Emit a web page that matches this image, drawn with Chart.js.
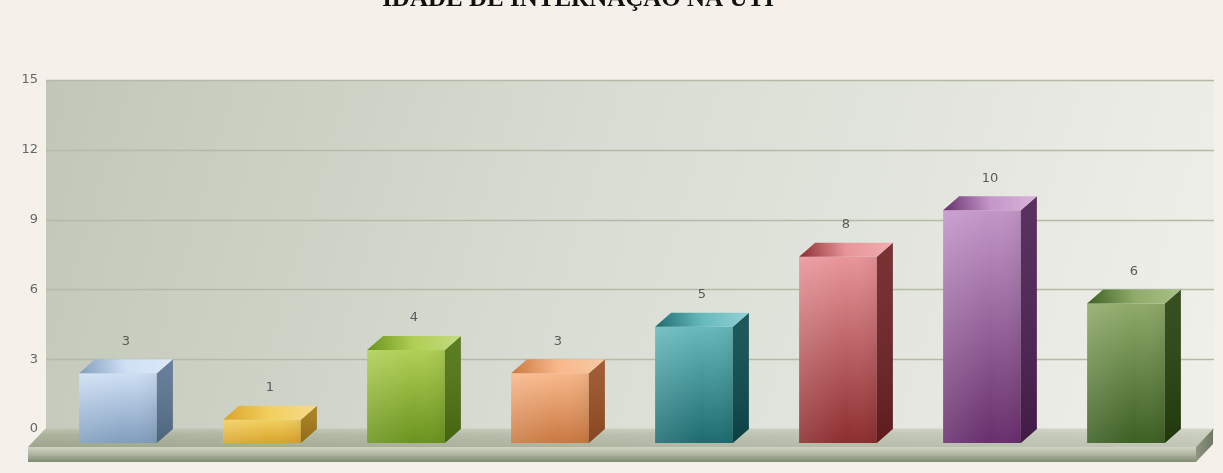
<!DOCTYPE html>
<html>
<head>
<meta charset="utf-8">
<script src="https://cdn.jsdelivr.net/npm/chart.js@4/dist/chart.umd.min.js"></script>
<style>
  html,body{margin:0;padding:0;background:#f5f1ea;overflow:hidden;}
  #wrap{width:1223px;height:473px;}
</style>
</head>
<body>
<div id="wrap"><canvas id="ageChart" width="1223" height="473"></canvas></div>
<script>
// Idade de internação na UTI — 3D style bar chart

const titleText = 'IDADE DE INTERNAÇÃO NA UTI';
const categories = ['1', '2', '3', '4', '5', '6', '7', '8'];
const patients = [3, 1, 4, 3, 5, 8, 10, 6];
const yTicks = [0, 3, 6, 9, 12, 15];

// per bar: top face, front (light -> dark), side face
const palette = [
  ['#dce9f7', '#cfe0f5', '#7f9dbd', '#5b7593'],
  ['#f6dc8c', '#f3cf5e', '#d9a42c', '#a67a16'],
  ['#c4db82', '#b0cf55', '#6a931c', '#4f7410'],
  ['#f8c9a5', '#f8b88a', '#c97840', '#9a5024'],
  ['#93d2d4', '#66b9bc', '#1d6b6f', '#0b4b4f'],
  ['#f0adb0', '#e89599', '#8c2d2f', '#6e2023'],
  ['#d9b6da', '#c396c8', '#672f6c', '#4a2052'],
  ['#a9c088', '#8faa69', '#3c5f23', '#26400e']
];

const DX = 16, DY = 14;       // bar depth
const FDX = 17, FDY = 18;     // floor depth

function poly(ctx, pts, fill){
  ctx.beginPath();
  ctx.moveTo(pts[0][0], pts[0][1]);
  for(let i=1;i<pts.length;i++) ctx.lineTo(pts[i][0], pts[i][1]);
  ctx.closePath();
  ctx.fillStyle = fill;
  ctx.fill();
}

// background, back wall, grid and floor
const stagePlugin = {
  id: 'stage',
  beforeDraw(chart){
    const {ctx, chartArea:a} = chart;
    const ys = chart.scales.y;
    ctx.save();
    ctx.fillStyle = '#f5f1ea';
    ctx.fillRect(0, 0, chart.width, chart.height);

    // title, partly off the top edge
    ctx.font = 'bold 25px "Liberation Serif", "DejaVu Serif", serif';
    ctx.fillStyle = '#111';
    ctx.textAlign = 'center';
    ctx.textBaseline = 'alphabetic';
    ctx.fillText(titleText, 578, 6);

    const base = ys.getPixelForValue(0);
    const wallR = a.right + DX;
    const g = ctx.createLinearGradient(a.left, a.top, wallR, base);
    g.addColorStop(0, '#c1c7b8');
    g.addColorStop(0.45, '#d8dcd2');
    g.addColorStop(1, '#eff0ea');
    ctx.fillStyle = g;
    ctx.fillRect(a.left, a.top, wallR - a.left, base - a.top);

    ctx.strokeStyle = '#b3baa7';
    ctx.lineWidth = 1.5;
    yTicks.forEach(v=>{
      const y = Math.round(ys.getPixelForValue(v)) + 0.5;
      ctx.beginPath(); ctx.moveTo(a.left, y); ctx.lineTo(wallR, y); ctx.stroke();
    });

    // floor top surface
    const fl = a.left - 1, fr = a.right + FDX - 2;
    const top = [[fl, base], [fr, base], [fr - FDX, base + FDY], [fl - FDX, base + FDY]];
    const fg = ctx.createLinearGradient(0, base, 0, base + FDY);
    fg.addColorStop(0, '#bcc2b0');
    fg.addColorStop(0.3, '#acb39d');
    fg.addColorStop(1, '#9fa68e');
    poly(ctx, top, fg);
    const fg2 = ctx.createLinearGradient(a.left, 0, a.right, 0);
    fg2.addColorStop(0, 'rgba(255,255,255,0)');
    fg2.addColorStop(1, 'rgba(255,255,255,0.35)');
    poly(ctx, top, fg2);

    // floor front slab
    const sy = base + FDY, sh = 15;
    const sg = ctx.createLinearGradient(0, sy, 0, sy + sh);
    sg.addColorStop(0, '#cfd3c5');
    sg.addColorStop(0.45, '#b2b8a3');
    sg.addColorStop(1, '#818a72');
    poly(ctx, [[fl - FDX, sy], [fr - FDX, sy], [fr - FDX, sy + sh], [fl - FDX, sy + sh]], sg);
    const rg = ctx.createLinearGradient(fr - FDX, 0, fr, 0);
    rg.addColorStop(0, '#8d957f');
    rg.addColorStop(1, '#6f7863');
    poly(ctx, [[fr - FDX, sy], [fr, base], [fr, base + sh], [fr - FDX, sy + sh]], rg);
    ctx.restore();
  },
  afterDatasetsDraw(chart){
    const {ctx} = chart;
    const meta = chart.getDatasetMeta(0);
    ctx.save();
    meta.data.forEach((bar, i)=>{
      const c = palette[i];
      const {x, y, base, width} = bar.getProps(['x', 'y', 'base', 'width'], true);
      const l = x - width / 2, r = x + width / 2;
      const ft = y + DY, fb = base + DY;

      // front face
      const g = ctx.createLinearGradient(0, ft, 0, fb);
      g.addColorStop(0, c[1]);
      g.addColorStop(1, c[2]);
      poly(ctx, [[l, ft], [r, ft], [r, fb], [l, fb]], g);
      const hl = ctx.createLinearGradient(l, 0, r, 0);
      hl.addColorStop(0, 'rgba(255,255,255,0.12)');
      hl.addColorStop(0.6, 'rgba(255,255,255,0)');
      hl.addColorStop(1, 'rgba(0,0,0,0.06)');
      poly(ctx, [[l, ft], [r, ft], [r, fb], [l, fb]], hl);

      // side face
      poly(ctx, [[r, ft], [r + DX, y], [r + DX, base], [r, fb]], c[3]);
      const sg = ctx.createLinearGradient(0, y, 0, fb);
      sg.addColorStop(0, 'rgba(255,255,255,0.08)');
      sg.addColorStop(1, 'rgba(0,0,0,0.15)');
      poly(ctx, [[r, ft], [r + DX, y], [r + DX, base], [r, fb]], sg);

      // top face
      const tg = ctx.createLinearGradient(l, ft, r + DX, y);
      tg.addColorStop(0, c[2]);
      tg.addColorStop(0.5, c[1]);
      tg.addColorStop(1, c[0]);
      poly(ctx, [[l, ft], [r, ft], [r + DX, y], [l + DX, y]], tg);

      // value label
      ctx.font = '13px "DejaVu Sans", Verdana, sans-serif';
      ctx.fillStyle = '#5a5a5a';
      ctx.textAlign = 'center';
      ctx.textBaseline = 'middle';
      ctx.fillText(String(patients[i]), x + DX / 2, y - 18);
    });
    ctx.restore();
  }
};

const ctx = document.getElementById('ageChart').getContext('2d');
const chart = new Chart(ctx, {
  type: 'bar',
  data: {
    labels: categories,
    datasets: [{
      data: patients,
      backgroundColor: 'rgba(0,0,0,0)',
      borderWidth: 0,
      categoryPercentage: 1,
      barPercentage: 0.54
    }]
  },
  options: {
    responsive: false,
    animation: false,
    devicePixelRatio: 1,
    layout: { padding: { top: 80, right: 25, bottom: 44, left: 0 } },
    plugins: { legend: { display: false }, tooltip: { enabled: false }, title: { display: false } },
    scales: {
      x: { display: false, grid: { display: false } },
      y: {
        min: 0, max: 15,
        afterFit(s){ s.width = 46; },
        afterBuildTicks(s){ s.ticks = yTicks.map(v=>({value: v})); },
        grid: { display: false, drawTicks: false },
        border: { display: false },
        ticks: {
          padding: 8,
          color: '#666',
          font: { family: '"DejaVu Sans", Verdana, sans-serif', size: 13 }
        }
      }
    }
  },
  plugins: [stagePlugin]
});
</script>
</body>
</html>
